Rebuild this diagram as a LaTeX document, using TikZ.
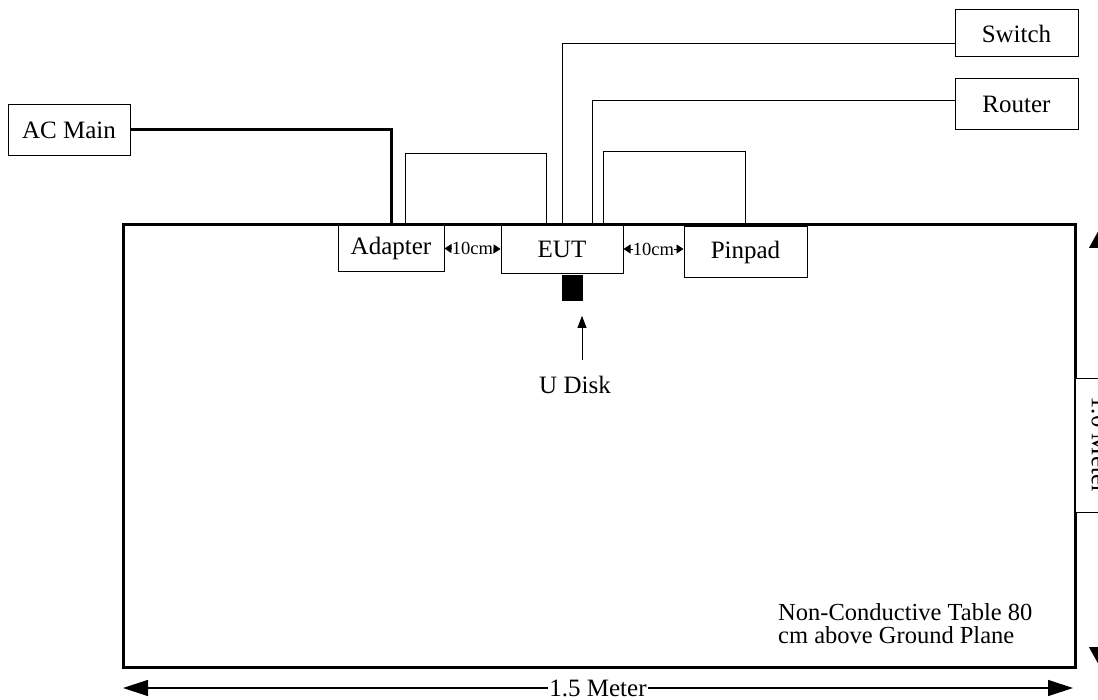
\documentclass[tikz,border=0pt]{standalone}
\usepackage{fontspec}
\setmainfont{Liberation Serif}
\usetikzlibrary{arrows.meta}
\begin{document}
\begin{tikzpicture}[x=1pt,y=-1pt,
  lbl/.style={font=\fontsize{25}{27}\selectfont},
  devbox/.style={draw, line width=1pt, inner sep=0pt, lbl},
  wire/.style={line width=0.8pt},
  power/.style={line width=3pt},
  dimsmall/.style={line width=0.8pt, {Triangle[length=7pt,width=9pt]}-{Triangle[length=7pt,width=9pt]}},
  dimbig/.style={line width=1.2pt, {Triangle[length=25pt,width=16pt]}-{Triangle[length=25pt,width=16pt]}},
  dimside/.style={line width=1.2pt, {Triangle[length=20pt,width=22pt]}-{Triangle[length=20pt,width=22pt]}},
  uarrow/.style={line width=0.8pt, -{Triangle[length=12pt,width=9pt]}}
]
\useasboundingbox (0,0) rectangle (1098,700);
\clip (0,0) rectangle (1098,700);

% table
\node[draw, line width=3pt, minimum width=952pt, minimum height=442pt, inner sep=0pt] (table) at (599,446) {};

% devices
\node[devbox, minimum width=122pt, minimum height=51pt] (acmain) at (69,130) {AC Main};
\node[devbox, minimum width=123pt, minimum height=47pt] (switch) at (1016.5,33.5) {Switch};
\node[devbox, minimum width=123pt, minimum height=51pt] (router) at (1016.5,104.5) {Router};
\node[devbox, minimum width=106pt, minimum height=47pt] (adapter) at (391,248.5) {Adapter};
\node[devbox, minimum width=122pt, minimum height=50pt] (eut) at (562,249) {EUT};
\node[devbox, minimum width=123pt, minimum height=51pt] (pinpad) at (745.5,252.5) {Pinpad};

% power cable
\draw[power] (acmain.east) -| (adapter.north);

% cables
\draw[wire] ([xshift=14pt]adapter.north) -- ++(0,-71) -| ([xshift=-16pt]eut.north);
\draw[wire] (eut.north) |- ([yshift=-10pt]switch.west);
\draw[wire] ([xshift=30pt]eut.north) |- ([yshift=4pt]router.west);
\draw[wire] ([xshift=41pt]eut.north) -- ++(0,-72) -| (pinpad.north);

% 10cm spacings
\draw[dimsmall] (adapter.east) -- (eut.west)
  node[midway, fill=white, inner sep=0.3pt, font=\fontsize{18.5}{18}\selectfont] {10cm};
\draw[dimsmall] (eut.east) -- (eut.east -| pinpad.west)
  node[midway, fill=white, inner sep=0.3pt, font=\fontsize{18.5}{18}\selectfont] {10cm};

% U disk
\node[fill=black, minimum width=21pt, minimum height=26pt, inner sep=0pt, anchor=north] (udisk) at ([xshift=10.5pt]eut.south) {};
\node[lbl, anchor=north, inner sep=0pt] (ulabel) at (575,376) {U Disk};
\draw[uarrow] ([xshift=7pt,yshift=16pt]ulabel.north) -- ([xshift=9.5pt,yshift=-15pt]udisk.south);

% table text
\node[anchor=north west, align=left, inner sep=0pt, font=\fontsize{24.5}{23}\selectfont] (tabletext) at (778,603) {Non-Conductive Table 80\\cm above Ground Plane};

% dimensions
\coordinate (bl) at (123,688);
\coordinate (br) at (1073,688);
\draw[dimbig] (bl) -- (br) node[midway, fill=white, inner sep=1pt, lbl] (blabel) {1.5 Meter};

\coordinate (rt) at (1100,228);
\coordinate (rb) at (1100,667);
\draw[dimside] (rt) -- (rb);
\node[draw, line width=0.8pt, fill=white, rotate=-90, minimum width=134pt, minimum height=50pt, inner sep=0pt, lbl] (rlabel) at (1100,445) {1.0 Meter};
\end{tikzpicture}
\end{document}
